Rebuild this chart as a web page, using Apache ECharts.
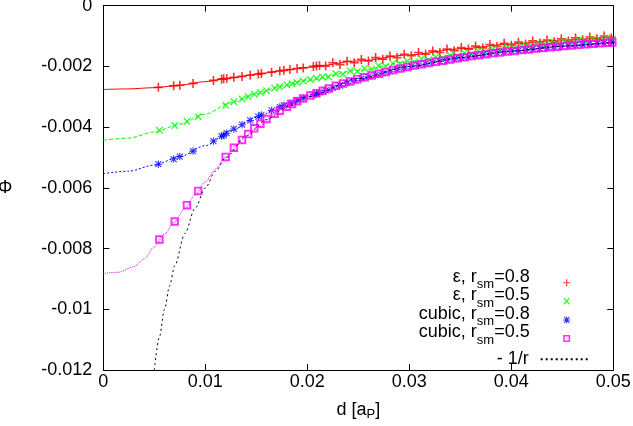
<!DOCTYPE html>
<html>
<head>
<meta charset="utf-8">
<script src="https://cdn.jsdelivr.net/npm/echarts@6/dist/echarts.min.js"></script>
<style>
html,body{margin:0;padding:0;background:#fff;}
#chart{width:633px;height:426px;}
</style>
</head>
<body>
<div id="chart"></div>
<script>
// ---- data ----
const xTicks = [0, 0.01, 0.02, 0.03, 0.04, 0.05];
const yTicks = [-0.012, -0.01, -0.008, -0.006, -0.004, -0.002, 0];

// particle distances for r_sm = 0.8 runs
const dSetA = [0.0054,0.0069,0.0075,0.0088,0.0108,0.0116,0.0118,0.0121,0.0128,0.0136,0.0144,0.0152,0.0155,0.0165,0.0173,0.0177,0.0183,0.019,0.0196,0.0206,0.0209,0.0212,
  0.0218,0.0225,0.0232,0.0239,0.0246,0.0253,0.026,0.0267,0.0274,0.0281,0.0288,0.0295,0.0302,0.0309,0.0316,0.0323,0.033,0.0337,0.0344,0.0351,0.0358,0.0365,0.0372,0.0379,0.0386,0.0393,0.04,0.0407,0.0414,0.0421,0.0428,0.0435,0.0442,0.0449,0.0456,0.0463,0.047,0.0477,0.0484,0.0491,0.0498];
const phiEps08 = [-0.00269,-0.00264,-0.00262,-0.00256,-0.00246,-0.00242,-0.00241,-0.0024,-0.00236,-0.00233,-0.00229,-0.00225,-0.00223,-0.00219,-0.00215,-0.00213,-0.0021,-0.00207,-0.00205,-0.002,-0.00199,-0.00197,
  -0.00199,-0.00188,-0.00194,-0.00183,-0.00188,-0.00177,-0.00182,-0.00171,-0.00176,-0.00166,-0.00171,-0.0016,-0.00165,-0.00154,-0.0016,-0.00149,-0.00154,-0.00143,-0.00148,-0.00138,-0.00143,-0.00133,-0.00139,-0.00128,-0.00134,-0.00124,-0.0013,-0.0012,-0.00126,-0.00116,-0.00123,-0.00113,-0.00119,-0.00109,-0.00116,-0.00106,-0.00112,-0.00103,-0.00109,-0.001,-0.00106];
const phiCub08 = [-0.00522,-0.00505,-0.00497,-0.00479,-0.00446,-0.0043,-0.00427,-0.0042,-0.00406,-0.00392,-0.00378,-0.00365,-0.0036,-0.00345,-0.00334,-0.00328,-0.00321,-0.00312,-0.00305,-0.00293,-0.0029,-0.00286,
  -0.00279,-0.00271,-0.00263,-0.00255,-0.00247,-0.0024,-0.00234,-0.00228,-0.00222,-0.00216,-0.0021,-0.00205,-0.002,-0.00196,-0.00192,-0.00188,-0.00184,-0.0018,-0.00176,-0.00172,-0.00169,-0.00165,-0.00162,-0.00159,-0.00156,-0.00153,-0.0015,-0.00148,-0.00146,-0.00143,-0.00141,-0.00139,-0.00136,-0.00134,-0.00132,-0.0013,-0.00128,-0.00126,-0.00125,-0.00123,-0.00121];

// particle distances for r_sm = 0.5 runs
const dSetB = [0.0055,0.007,0.0082,0.0093,0.012,0.0128,0.0136,0.0142,0.0148,0.0154,0.016,0.0168,0.0173,0.018,0.0185,0.019,0.0196,0.0203,0.0209,0.0215,
  0.0221,0.0228,0.0235,0.0242,0.0249,0.0256,0.0263,0.027,0.0277,0.0284,0.0291,0.0298,0.0305,0.0312,0.0319,0.0326,0.0333,0.034,0.0347,0.0354,0.0361,0.0368,0.0375,0.0382,0.0389,0.0396,0.0403,0.041,0.0417,0.0424,0.0431,0.0438,0.0445,0.0452,0.0459,0.0466,0.0473,0.048,0.0487,0.0494,0.0499];
const phiEps05 = [-0.0041,-0.00395,-0.00381,-0.00366,-0.00328,-0.00316,-0.00307,-0.003,-0.00292,-0.00286,-0.0028,-0.00272,-0.00267,-0.00261,-0.00257,-0.00253,-0.00248,-0.00243,-0.00239,-0.00235,
  -0.00235,-0.00224,-0.00226,-0.00215,-0.00217,-0.00207,-0.00209,-0.00198,-0.002,-0.0019,-0.00192,-0.00182,-0.00185,-0.00175,-0.00178,-0.00169,-0.00172,-0.00163,-0.00165,-0.00156,-0.00159,-0.00149,-0.00152,-0.00143,-0.00146,-0.00137,-0.0014,-0.00131,-0.00135,-0.00127,-0.0013,-0.00122,-0.00126,-0.00118,-0.00122,-0.00115,-0.00119,-0.00111,-0.00115,-0.00107,-0.00111];
const phiCub05 = [-0.0077,-0.00711,-0.00657,-0.0061,-0.00498,-0.00468,-0.00442,-0.00423,-0.00404,-0.00389,-0.00373,-0.00356,-0.00346,-0.00333,-0.00324,-0.00315,-0.00306,-0.00296,-0.00288,-0.0028,
  -0.00273,-0.00264,-0.00256,-0.0025,-0.00242,-0.00236,-0.0023,-0.00224,-0.00218,-0.00212,-0.00207,-0.00202,-0.00197,-0.00193,-0.00189,-0.00185,-0.00181,-0.00177,-0.00173,-0.0017,-0.00166,-0.00163,-0.0016,-0.00157,-0.00154,-0.00151,-0.00149,-0.00146,-0.00144,-0.00141,-0.00139,-0.00137,-0.00135,-0.00133,-0.00131,-0.00129,-0.00127,-0.00125,-0.00124,-0.00122,-0.00121];

// smooth model curves
const curveEps08 = [[0,-0.00276],[0.0025,-0.00274],[0.005,-0.0027],[0.0075,-0.00262],[0.01,-0.0025],[0.0125,-0.00238],[0.015,-0.00226],[0.0175,-0.00214],[0.02,-0.00203],[0.025,-0.00182],[0.03,-0.00162],[0.035,-0.00142],[0.04,-0.00126],[0.045,-0.00113],[0.05,-0.00102]];
const curveEps05 = [[0,-0.00443],[0.0025,-0.00436],[0.005,-0.00416],[0.0075,-0.0039],[0.01,-0.00357],[0.0125,-0.0032],[0.015,-0.0029],[0.0175,-0.00265],[0.02,-0.00245],[0.025,-0.00213],[0.03,-0.00184],[0.035,-0.00161],[0.04,-0.00138],[0.045,-0.00122],[0.05,-0.00109]];
const curveCub08 = [[0,-0.00553],[0.0025,-0.00545],[0.005,-0.00525],[0.0075,-0.00497],[0.01,-0.00461],[0.0125,-0.00412],[0.015,-0.00368],[0.0175,-0.00331],[0.02,-0.003],[0.025,-0.00245],[0.03,-0.00201],[0.035,-0.00172],[0.04,-0.0015],[0.045,-0.00134],[0.05,-0.00121]];
const curveCub05 = [[0,-0.00882],[0.0015,-0.00878],[0.003,-0.0086],[0.004,-0.00834],[0.005,-0.00795],[0.006,-0.00752],[0.007,-0.00712],[0.008,-0.00668],[0.009,-0.00623],[0.01,-0.0058],[0.011,-0.00538],[0.012,-0.00499],[0.013,-0.00462],[0.014,-0.0043],[0.015,-0.00401],[0.0175,-0.0034],[0.02,-0.00296],[0.025,-0.0024],[0.03,-0.00199],[0.035,-0.0017],[0.04,-0.00149],[0.045,-0.00134],[0.05,-0.00121]];
const curveKepler = [[0.005,-0.012],[0.0055,-0.01091],[0.006,-0.01],[0.0065,-0.00923],[0.007,-0.00857],[0.008,-0.0075],[0.009,-0.00667],[0.01,-0.006],[0.011,-0.00545],[0.012,-0.005],[0.014,-0.00429],[0.016,-0.00375],[0.018,-0.00333],[0.02,-0.003],[0.025,-0.0024],[0.03,-0.002],[0.035,-0.00171],[0.04,-0.0015],[0.045,-0.00133],[0.05,-0.0012]];

const pointNames = ['eps08', 'eps05', 'cub08', 'cub05'];
const legendTexts = {
  eps08: '{n|ε, r}{s|sm}{n|=0.8}{g| }',
  eps05: '{n|ε, r}{s|sm}{n|=0.5}{g| }',
  cub08: '{n|cubic, r}{s|sm}{n|=0.8}{g| }',
  cub05: '{n|cubic, r}{s|sm}{n|=0.5}{g| }',
  kepler: '{m|- 1/r}{g| }'
};

// ---- build ----
const FONT = 'Liberation Sans';
const FS = 18;
const zip = (xs, ys) => xs.map((x, i) => [x, ys[i]]);

const SYM_PLUS = 'path://M0,4.1H10V5.9H0Z M4.1,0H5.9V10H4.1Z';
const SYM_CROSS = 'path://M0,1.3L1.3,0L10,8.7L8.7,10Z M8.7,0L10,1.3L1.3,10L0,8.7Z';
const SYM_STAR = 'path://M0,4.3H10V5.7H0Z M4.3,0H5.7V10H4.3Z M0.5,1.5L1.5,0.5L9.5,8.5L8.5,9.5Z M8.5,0.5L9.5,1.5L1.5,9.5L0.5,8.5Z';
const SYM_BOX = 'path://M0,0H10V10H0Z M2.3,2.3V7.7H7.7V2.3Z';

// legend icons: glyph centred in a 50 x 7 box (tiny corner anchors fix the box)
const ANCH = 'M0,0h0.01v0.01h-0.01Z M49.99,6.99h0.01v0.01h-0.01Z ';
const ICON_PLUS = 'path://' + ANCH + 'M21.3,2.9H28.7V4.1H21.3Z M24.4,-0.2H25.6V7.2H24.4Z';
const ICON_CROSS = 'path://' + ANCH + 'M21.8,1L22.8,0L28.2,6L27.2,7Z M27.2,0L28.2,1L22.8,7L21.8,6Z';
const ICON_STAR = 'path://' + ANCH + 'M21.6,3H28.4V4H21.6Z M24.5,0H25.5V7H24.5Z M21.9,0.9L22.6,0.2L28.1,6.1L27.4,6.8Z M27.4,0.2L28.1,0.9L22.6,6.8L21.9,6.1Z';
const ICON_BOX = 'path://' + ANCH + 'M21.5,0H28.5V7H21.5Z M23.1,1.6V5.4H26.9V1.6Z';
const legendIcons = {eps08: ICON_PLUS, eps05: ICON_CROSS, cub08: ICON_STAR, cub05: ICON_BOX};

const chart = echarts.init(document.getElementById('chart'), null, {renderer: 'canvas'});

const lineSeries = (name, data, color, type, width, z) => ({
  name, type: 'line', data, smooth: 0.3, smoothMonotone: 'x',
  showSymbol: false, symbol: 'none', z,
  lineStyle: {color, width, type},
  itemStyle: {color},
  silent: true
});
const scatterSeries = (name, data, color, symbol, size, z) => ({
  name, type: 'scatter', data, symbol, symbolSize: size, z,
  itemStyle: {color}, silent: true
});

const axisCommon = {
  type: 'value',
  axisLine: {show: true, onZero: false, lineStyle: {color: '#000', width: 1}},
  axisTick: {show: true, inside: true, length: 6, lineStyle: {color: '#000'}},
  splitLine: {show: false}
};

const legendRich = {
  n: {fontFamily: FONT, fontSize: FS, color: '#000', lineHeight: 18, padding: [0, 0, 12, 0]},
  s: {fontFamily: FONT, fontSize: 13, color: '#000', lineHeight: 14, padding: [3.6, 0, 0, 0]},
  m: {fontFamily: FONT, fontSize: FS, color: '#000', lineHeight: 18},
  g: {fontSize: 1, width: 7}
};

const option = {
  backgroundColor: '#fff',
  animation: false,
  grid: {left: 103.3, right: 19.7, top: 5.7, bottom: 56, containLabel: false, outerBoundsMode: 'none'},
  xAxis: [
    Object.assign({}, axisCommon, {
      min: xTicks[0], max: xTicks[xTicks.length - 1], interval: 0.01, position: 'bottom',
      axisLabel: {color: '#000', fontFamily: FONT, fontSize: FS, margin: 3},
      name: '{n|d [a}{p|P}{n|]}', nameLocation: 'middle', nameGap: 30,
      nameTextStyle: {color: '#000', fontFamily: FONT, rich: {
        n: {fontFamily: FONT, fontSize: FS, color: '#000', lineHeight: 20},
        p: {fontFamily: FONT, fontSize: 13, color: '#000', lineHeight: 12, padding: [9, 0, 0, 0]}
      }}
    }),
    Object.assign({}, axisCommon, {
      min: xTicks[0], max: xTicks[xTicks.length - 1], interval: 0.01, position: 'top',
      axisLabel: {show: false}
    })
  ],
  yAxis: [
    Object.assign({}, axisCommon, {
      min: yTicks[0], max: yTicks[yTicks.length - 1], interval: 0.002, position: 'left',
      axisLabel: {color: '#000', fontFamily: FONT, fontSize: FS, margin: 11},
      name: 'Φ', nameLocation: 'middle', nameRotate: 0, nameGap: 91,
      nameTextStyle: {color: '#000', fontFamily: FONT, fontSize: FS}
    }),
    Object.assign({}, axisCommon, {
      min: yTicks[0], max: yTicks[yTicks.length - 1], interval: 0.002, position: 'right',
      axisLabel: {show: false}
    })
  ],
  legend: [
    {
      orient: 'vertical', align: 'right', right: 41.3, top: 267.7, padding: 0,
      itemWidth: 50, itemHeight: 7, itemGap: -11.4,
      selectedMode: false,
      data: pointNames.map(n => ({name: n, icon: legendIcons[n]})),
      formatter: name => legendTexts[name],
      textStyle: {color: '#000', fontFamily: FONT, fontSize: FS, rich: legendRich}
    },
    {
      orient: 'vertical', align: 'right', right: 41.3, top: 350.3, padding: 0,
      itemWidth: 50, itemHeight: 7, itemGap: 0,
      selectedMode: false,
      data: [{name: 'kepler', itemStyle: {opacity: 0}}],
      formatter: name => legendTexts[name],
      textStyle: {color: '#000', fontFamily: FONT, fontSize: FS, rich: legendRich}
    }
  ],
  series: [
    lineSeries('lineEps08', curveEps08, '#ff0000', 'solid', 1, 1),
    lineSeries('lineEps05', curveEps05, '#00ff00', [4, 2], 1, 1),
    lineSeries('lineCub08', curveCub08, '#0000ff', [2, 2], 1, 1),
    lineSeries('lineCub05', curveCub05, '#ff00ff', [1, 1], 1, 1),
    scatterSeries('eps08', zip(dSetA, phiEps08), '#ff0000', SYM_PLUS, 9, 2),
    scatterSeries('eps05', zip(dSetB, phiEps05), '#00ff00', SYM_CROSS, 7.5, 3),
    scatterSeries('cub08', zip(dSetA, phiCub08), '#0000ff', SYM_STAR, 7.5, 4),
    scatterSeries('cub05', zip(dSetB, phiCub05), '#ff00ff', SYM_BOX, 8.5, 5),
    lineSeries('kepler', curveKepler, '#000000', [2, 3], 1, 6)
  ]
};
chart.setOption(option);
</script>
</body>
</html>
